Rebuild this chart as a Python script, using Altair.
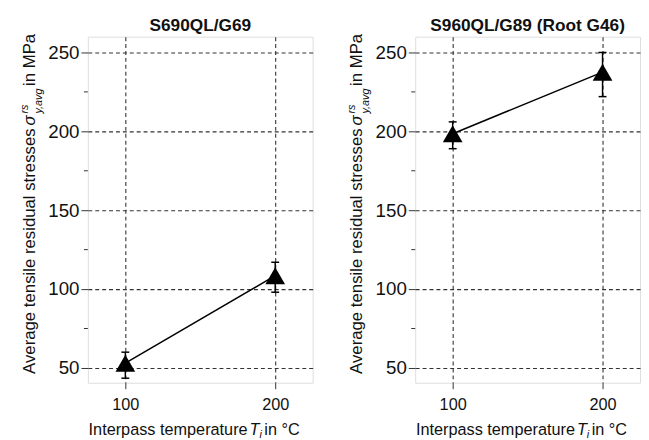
import altair as alt
import pandas as pd

# ---- data ----
temps = [100, 200]
left_mean = [53.0, 108.5]
left_lo = [43.5, 98.0]
left_hi = [60.0, 117.0]
right_mean = [198.5, 237.5]
right_lo = [189.0, 222.0]
right_hi = [206.0, 250.0]
titles = ["S690QL/G69", "S960QL/G89 (Root G46)"]
y_ticks = [50, 100, 150, 200, 250]
y_minor = [75, 125, 175, 225]
x_ticks = [100, 200]
y_title_parts = ["Average tensile residual stresses", "σ", "rs", "y,avg", "in MPa"]
x_title_parts = ["Interpass temperature", "T", "i", "in °C"]

FONT = "Liberation Sans"
W, H = 228, 351
INK = "#111111"
GRID = "#333333"


def txt(s, x, y, size, angle=0, align="left", italic=False, bold=False):
    return alt.Chart(pd.DataFrame({"t": [s]})).mark_text(
        font=FONT, fontSize=size, angle=angle, align=align, baseline="alphabetic",
        fontStyle="italic" if italic else "normal",
        fontWeight="bold" if bold else "normal", color=INK,
    ).encode(text="t:N", x=alt.value(x), y=alt.value(y))


def panel(title, mean, lo, hi):
    df = pd.DataFrame({"T": temps, "m": mean, "lo": lo, "hi": hi})
    xs = alt.Scale(domain=[75, 225], nice=False, zero=False)
    ys = alt.Scale(domain=[40.6, 260], nice=False, zero=False)
    xax = alt.Axis(values=x_ticks, title=None, grid=True, gridDash=[4, 3], gridColor=GRID,
                   gridWidth=1.1, ticks=True, tickSize=6, tickColor=GRID, tickWidth=1,
                   domain=False, labelFont=FONT, labelFontSize=16.5, labelPadding=8,
                   labelColor=INK)
    yax = alt.Axis(values=y_ticks, title=None, grid=True, gridDash=[4, 3], gridColor=GRID,
                   gridWidth=1.1, ticks=True, tickSize=7, tickColor=GRID, tickWidth=1,
                   domain=False, labelFont=FONT, labelFontSize=19, labelPadding=2,
                   labelColor=INK)
    base = alt.Chart(df)
    line = base.mark_line(color="#000", strokeWidth=1.5).encode(
        x=alt.X("T:Q", scale=xs, axis=xax), y=alt.Y("m:Q", scale=ys, axis=yax))
    err = base.mark_rule(color="#000", strokeWidth=1.5).encode(x="T:Q", y="lo:Q", y2="hi:Q")
    cap_lo = base.mark_tick(orient="horizontal", size=8, thickness=1.5, color="#000",
                            opacity=1).encode(x="T:Q", y="lo:Q")
    cap_hi = base.mark_tick(orient="horizontal", size=8, thickness=1.5, color="#000",
                            opacity=1).encode(x="T:Q", y="hi:Q")
    pts = base.mark_point(shape="triangle-up", filled=True, size=400, color="#000",
                          opacity=1).encode(x="T:Q", y="m:Q")
    minor = alt.Chart(pd.DataFrame({"v": y_minor})).mark_rule(
        color=GRID, strokeWidth=1).encode(y="v:Q", x=alt.value(-4), x2=alt.value(0))

    ttl = alt.Chart(pd.DataFrame({"t": [title]})).mark_text(
        font=FONT, fontSize=17.5, fontWeight="bold", align="center",
        baseline="alphabetic", color=INK,
    ).encode(text="t:N", x=alt.value(W / 2), y=alt.value(-6))

    yt = [
        txt(y_title_parts[0], -54, 342, 17, angle=270),
        txt(y_title_parts[1], -54, 90, 17, angle=270, italic=True),
        txt(y_title_parts[2], -61, 78, 11, angle=270, italic=True),
        txt(y_title_parts[3], -47, 78, 11, angle=270, italic=True),
        txt(y_title_parts[4], -54, 50, 17, angle=270),
    ]
    xt = [
        txt(x_title_parts[0], 162, 404, 16.5, align="right"),
        txt(x_title_parts[1], 164, 404, 16.5, italic=True),
        txt(x_title_parts[2], 174, 407, 11, italic=True),
        txt(x_title_parts[3], 179, 404, 16.5),
    ]
    return alt.layer(minor, line, err, cap_lo, cap_hi, pts, ttl, *yt, *xt).properties(
        width=W, height=H,
    )


chart = alt.hconcat(
    panel(titles[0], left_mean, left_lo, left_hi),
    panel(titles[1], right_mean, right_lo, right_hi),
    spacing=32,
).properties(
    padding={"left": 10, "top": 5, "right": 0, "bottom": 0},
).configure_view(
    stroke="#333333", strokeWidth=1.5
).configure(font=FONT)

chart.save("out.html", embed_options={"renderer": "svg", "actions": False})
